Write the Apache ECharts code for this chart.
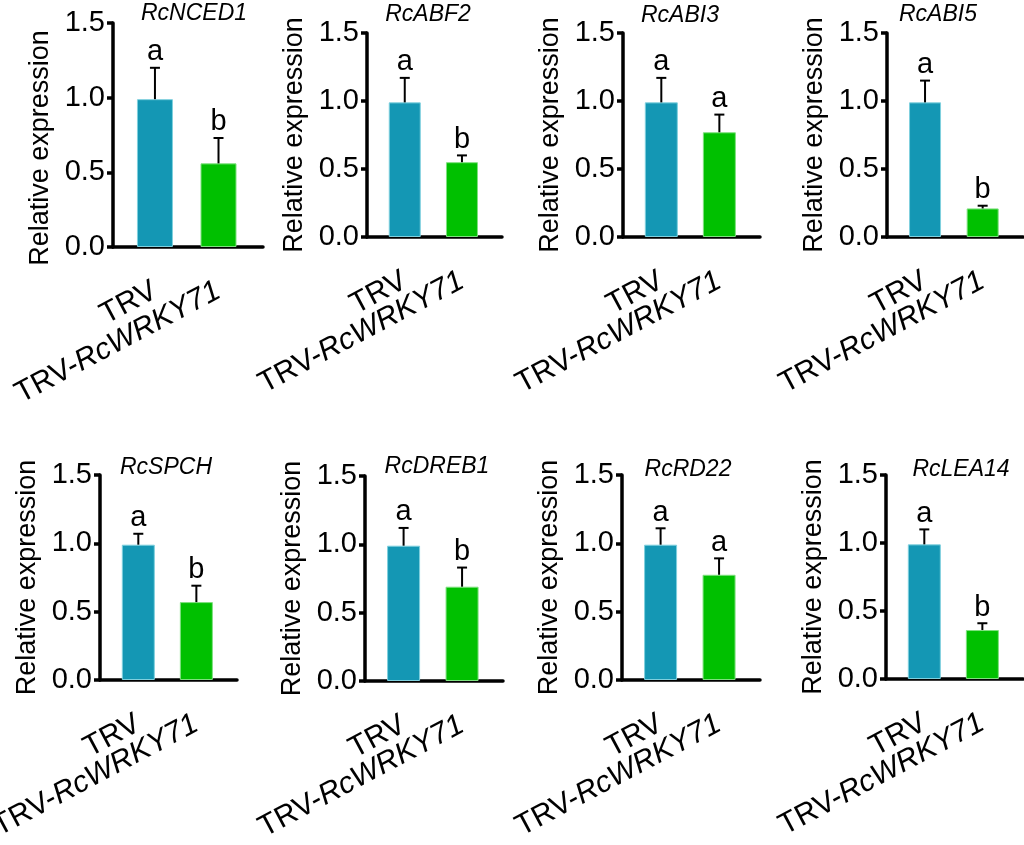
<!DOCTYPE html>
<html><head><meta charset="utf-8">
<script src="https://cdn.jsdelivr.net/npm/echarts@6/dist/echarts.min.js"></script>
<style>html,body{margin:0;padding:0;background:#fff}#c{width:1024px;height:845px}</style>
</head><body><div id="c"></div>
<script>
// ---- data ----
const genes = ['RcNCED1','RcABF2','RcABI3','RcABI5','RcSPCH','RcDREB1','RcRD22','RcLEA14'];
const groups = ['TRV','TRV-RcWRKY71'];
const trvMean  = [0.99,0.99,0.99,0.99,0.99,0.99,0.99,0.99];
const trvErr   = [0.21,0.18,0.18,0.16,0.08,0.13,0.12,0.11];
const wrkyMean = [0.56,0.55,0.77,0.21,0.57,0.69,0.77,0.36];
const wrkyErr  = [0.17,0.05,0.13,0.02,0.12,0.14,0.12,0.05];
const trvLetters  = ['a','a','a','a','a','a','a','a'];
const wrkyLetters = ['b','b','a','b','b','b','a','b'];
const yTicks = [0.0,0.5,1.0,1.5];

// ---- layout / style ----
const FONT = '"Liberation Sans", Arial, sans-serif';
const colors = ['#1497b4','#00c000'];
const borders = ['#7fd0de','#7fe07f'];
const boxes = [[113,23,150,224],[367,33,135,204],[623,33,137,204],[887,33,136,204],
               [100,475,137,205],[365,476,138,205],[622,475,138,205],[886,475,137,204]];
const titlePos = [[194,14],[428,15],[680,16],[938,15],[166,468],[437,467],[688,470],[961,470]];
const nameShift = [26,0,0,0,0,0,0,0];
const XMIN = -0.66, XMAX = 1.70;

const labelText = name => {
  const p = name.split('-');
  return p.length > 1 ? '{n|' + p[0] + '-}{i|' + p.slice(1).join('-') + '}' : '{n|' + name + '}';
};

const grid = [], xAxis = [], yAxis = [], series = [], graphic = [];
genes.forEach((g, k) => {
  const [l, t, w, h] = boxes[k];
  grid.push({left: l, top: t, width: w, height: h, containLabel: false, outerBoundsMode: 'none'});
  // one x axis per group so each category label is placed independently
  groups.forEach((name, i) => {
    xAxis.push({
      type: 'value', gridIndex: k, min: XMIN, max: XMAX, position: 'bottom',
      axisLine: {show: i === 0, onZero: false, lineStyle: {color: '#000', width: 3.5}},
      axisTick: {show: false}, splitLine: {show: false},
      axisLabel: {
        customValues: [i], rotate: 28, margin: 42, hideOverlap: false,
        color: '#000', fontSize: 30, fontFamily: FONT,
        formatter: v => labelText(groups[Math.round(v)]),
        rich: {
          n: {fontSize: 30, fontFamily: FONT, color: '#000'},
          i: {fontSize: 30, fontFamily: FONT, color: '#000', fontStyle: 'italic'}
        }
      }
    });
  });
  yAxis.push({
    type: 'value', gridIndex: k, min: yTicks[0], max: yTicks[yTicks.length - 1],
    interval: yTicks[1] - yTicks[0],
    name: 'Relative expression', nameLocation: 'middle', nameGap: 59,
    nameTextStyle: {fontSize: 27, fontFamily: FONT, color: '#000', padding: [0, nameShift[k], 0, 0]},
    axisLine: {show: true, onZero: false, lineStyle: {color: '#000', width: 3.5}},
    axisTick: {show: true, inside: false, length: 6, lineStyle: {color: '#000', width: 3.5}},
    splitLine: {show: false},
    axisLabel: {margin: 8, color: '#000', fontSize: 29, fontFamily: FONT, hideOverlap: false, formatter: v => v.toFixed(1)}
  });
  const xi = k * groups.length;
  const unit = w / (XMAX - XMIN);
  const means = [trvMean[k], wrkyMean[k]];
  const errs = [trvErr[k], wrkyErr[k]];
  const letters = [trvLetters[k], wrkyLetters[k]];
  series.push({
    type: 'bar', xAxisIndex: xi, yAxisIndex: k, barWidth: Math.round(unit * 0.56),
    data: means.map((m, i) => ({value: [i, m], itemStyle: {color: colors[i], borderColor: borders[i], borderWidth: 1}})),
    silent: true
  });
  series.push({
    type: 'custom', xAxisIndex: xi, yAxisIndex: k, z: 5, silent: true,
    data: means.map((m, i) => [i, m, m + errs[i]]),
    renderItem: (params, api) => {
      const x = api.value(0);
      const p0 = api.coord([x, api.value(1)]);
      const p1 = api.coord([x, api.value(2)]);
      return {type: 'group', children: [
        {type: 'line', shape: {x1: p0[0], y1: p0[1], x2: p1[0], y2: p1[1]}, style: {stroke: '#000', lineWidth: 2}},
        {type: 'line', shape: {x1: p1[0] - 5, y1: p1[1], x2: p1[0] + 5, y2: p1[1]}, style: {stroke: '#000', lineWidth: 2}},
        {type: 'text', x: p1[0], y: p1[1] - 1, style: {text: letters[params.dataIndex], fontSize: 29, fontFamily: FONT, fill: '#000', align: 'center', verticalAlign: 'bottom'}}
      ]};
    }
  });
  graphic.push({type: 'text', x: titlePos[k][0], y: titlePos[k][1],
    style: {text: g, fontSize: 23, fontStyle: 'italic', fontFamily: FONT, fill: '#000', align: 'center', verticalAlign: 'middle'}});
});

const chart = echarts.init(document.getElementById('c'), null, {renderer: 'canvas'});
chart.setOption({animation: false, backgroundColor: '#fff', grid, xAxis, yAxis, series, graphic});
</script></body></html>
